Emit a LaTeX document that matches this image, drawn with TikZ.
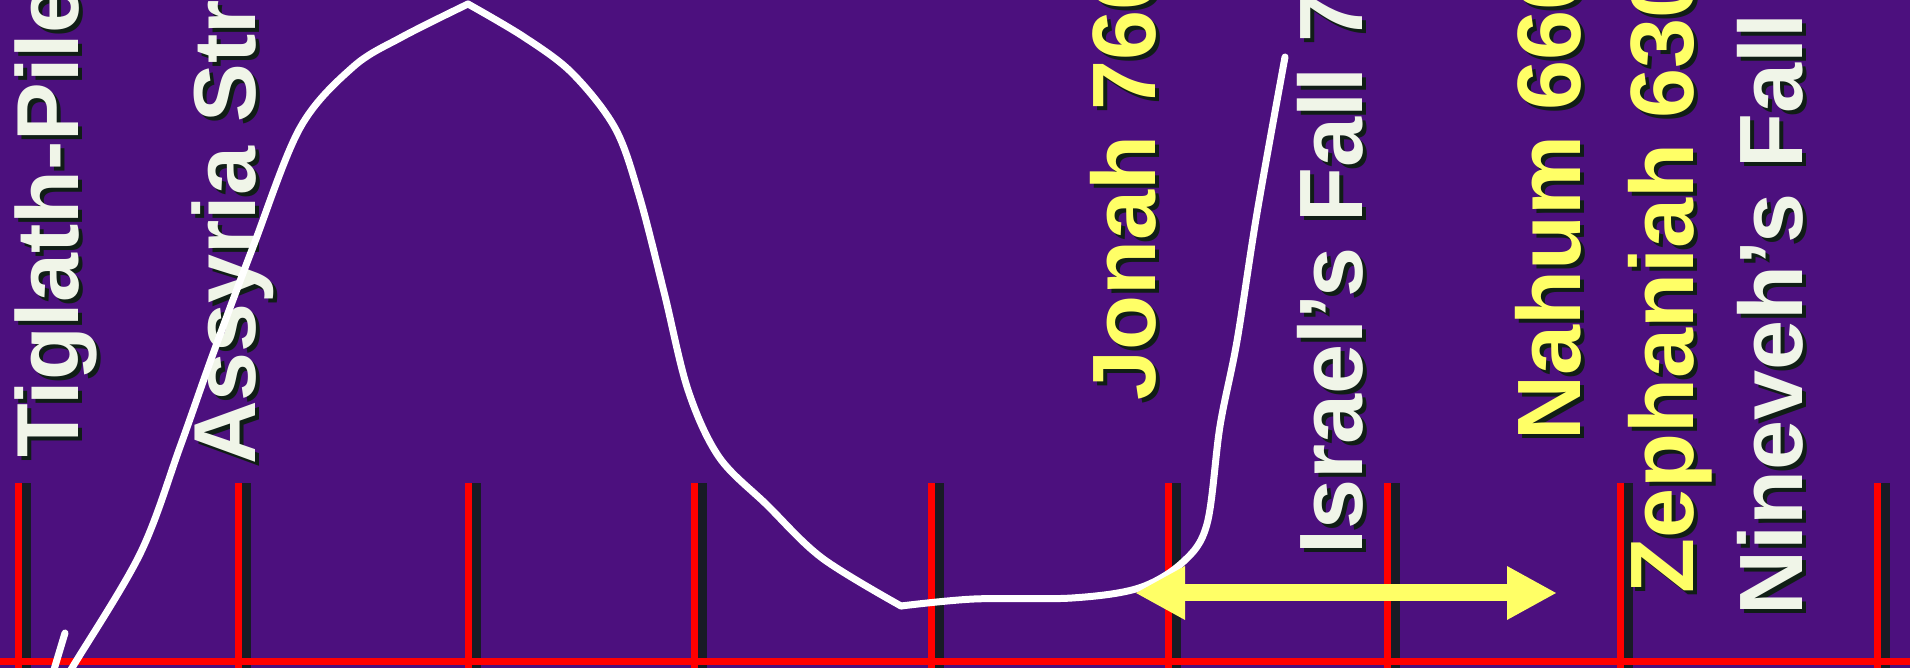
\documentclass[tikz,border=0pt]{standalone}
\usepackage{fontspec}
\setmainfont{Liberation Sans}
\usetikzlibrary{arrows.meta}
\definecolor{bgpurple}{RGB}{76,16,126}
\definecolor{tickred}{RGB}{255,0,0}
\definecolor{dropshade}{RGB}{16,30,22}
\definecolor{lblwhite}{RGB}{240,245,232}
\definecolor{lblyellow}{RGB}{255,255,102}

\begin{document}
\begin{tikzpicture}[x=0.5pt, y=0.5pt, >=Triangle,
    lbl/.style={rotate=90, anchor=base west, inner sep=0pt,
      font=\bfseries\fontsize{#1}{50}\selectfont},
    tickline/.style={draw=tickred, line width=3.5pt},
    curve/.style={draw=white, line width=3.5pt, line join=round, line cap=round}]
    \clip (0,0) rectangle (1910,668);
    \fill[bgpurple] (0,0) rectangle (1910,668);

    % ticks with their shadows
    \foreach \tx in {18, 238, 468, 694, 931, 1168, 1387, 1620, 1877} {
      \fill[dropshade, opacity=0.85] (\tx+3.5, 0) rectangle (\tx+13, 185);
      \draw[tickline] (\tx, 0) -- (\tx, 185);
    }
    \draw[tickline] (0, 6) -- (1910, 6);

    % labels, each with a dark shadow
    \foreach \n/\lx/\ly/\fs/\col/\txt in {
        tig/78/210/44/lblwhite/Tiglath-Pile,
        asy/255/203/44/lblwhite/Assyria Str,
        jon/1155/267/45/lblyellow/Jonah 760,
        isr/1362/113/45/lblwhite/Israel’s Fall 7,
        nah/1580/227/45/lblyellow/Nahum 660,
        zep/1693/74/45/lblyellow/Zephaniah 630,
        nin/1802/52/45/lblwhite/Nineveh’s Fall} {
      \node[lbl=\fs, text=dropshade] at (\lx+4, \ly-4) {\txt};
      \node[lbl=\fs, text=\col] (\n) at (\lx, \ly) {\txt};
    }

    % rise and fall of Assyria
    \draw[curve] plot[smooth, tension=0.55] coordinates {
      (52,-34) (72,0) (140,114) (180,221) (213,314) (253,421)
      (300,540) (353,601) (402,631) (468,664)};
    \draw[curve] plot[smooth, tension=0.55] coordinates {
      (468,664) (524,631) (572,595) (615,540) (639,473) (664,376)
      (688,278) (719,211) (767,163) (822,110) (901,62)};
    \draw[curve] plot[smooth, tension=0.55] coordinates {
      (901,62) (974,69) (1072,70) (1139,80) (1183,106) (1207,144)
      (1220,242) (1237,327) (1257,455) (1285,611)};
    \draw[curve] (65,35) -- (53,-5);

    % span between the two falls
    \coordinate (spanL) at (1135,75);
    \coordinate (spanR) at (1557,75);
    \draw[<->, lblyellow, line width=8.5pt, >={Triangle[length=25pt, width=25pt]}]
      (spanL) -- (spanR);
  \end{tikzpicture}
\end{document}
